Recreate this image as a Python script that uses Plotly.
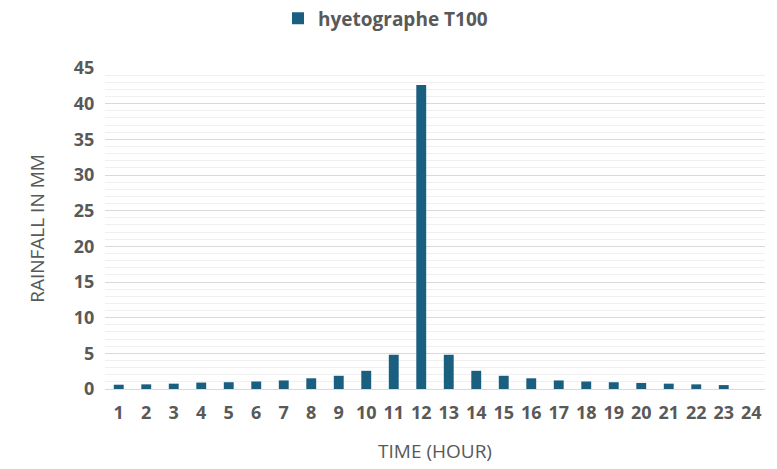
import plotly.graph_objects as go

hours = [str(i) for i in range(1, 25)]
rain = [0.6, 0.65, 0.75, 0.9, 0.95, 1.05, 1.2, 1.5, 1.85, 2.55, 4.8, 42.6,
        4.8, 2.55, 1.85, 1.5, 1.2, 1.05, 0.95, 0.85, 0.75, 0.65, 0.55, 0]
series_name = "hyetographe T100"

FONT = "Open Sans"
fig = go.Figure()
fig.add_trace(go.Bar(x=hours, y=rain, name=series_name, marker_color="#1a5e80",
                     marker_line_width=0))
fig.update_layout(
    width=777, height=469,
    margin=dict(l=105, r=12, t=68, b=80),
    plot_bgcolor="white", paper_bgcolor="white",
    bargap=0.64,
    showlegend=True,
    legend=dict(orientation="h", x=0.425, xanchor="center", y=0.92, yanchor="bottom",
                yref="container", font=dict(family=FONT, size=19, color="#595959", weight="bold"),
                itemsizing="constant"),
    font=dict(family=FONT, color="#595959"),
    xaxis=dict(title=dict(text="TIME (HOUR)", font=dict(size=19, color="#595959"), standoff=22),
               automargin=False,
               tickfont=dict(size=18, color="#595959", weight="bold"),
               showgrid=False, showline=True, linecolor="#d9d9d9", linewidth=1,
               ticks="outside", ticklen=7, tickcolor="rgba(0,0,0,0)"),
    yaxis=dict(title=dict(text="RAINFALL IN MM", font=dict(size=19, color="#595959"), standoff=24),
               automargin=False,
               tickfont=dict(size=18, color="#595959", weight="bold"),
               range=[0, 45], dtick=5, showgrid=True, gridcolor="#d9d9d9", gridwidth=1,
               zeroline=False, ticks="outside", ticklen=6, tickcolor="rgba(0,0,0,0)",
               minor=dict(dtick=1, showgrid=True, gridcolor="#f0f0f0", gridwidth=1)),
)
fig.write_html("out.html")
